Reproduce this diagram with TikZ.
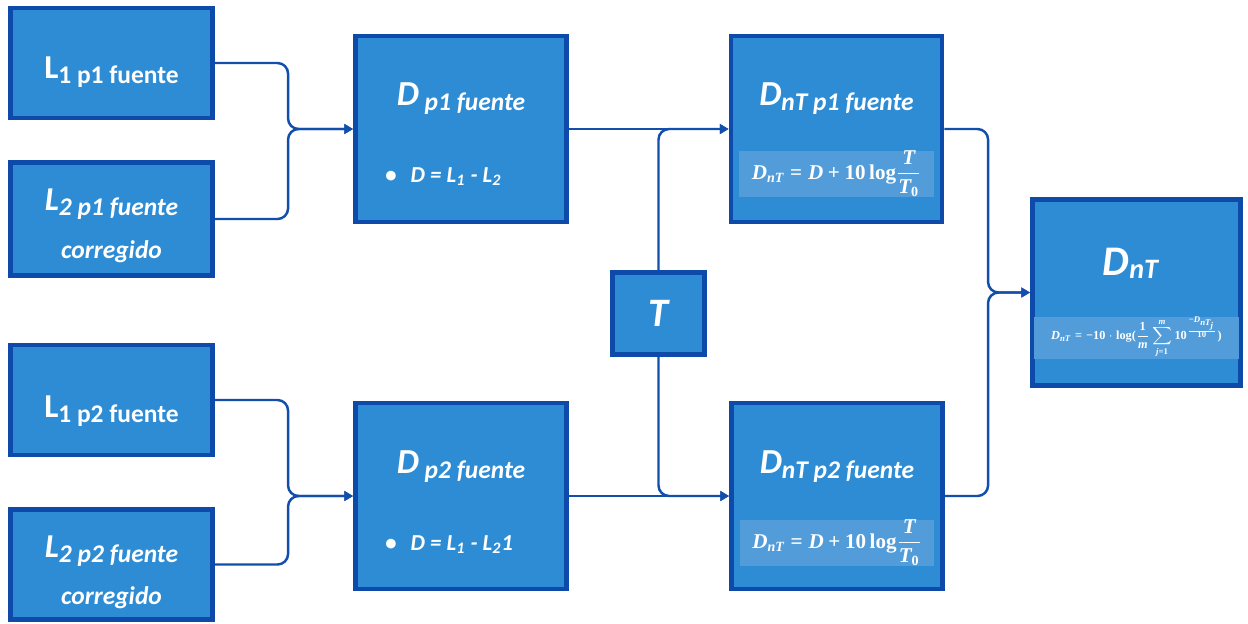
\documentclass[tikz,border=0pt]{standalone}
\usepackage{amsmath}
\usepackage[no-math]{fontspec}
\setmainfont{Carlito}
\newfontfamily\fmlfont{Liberation Serif}
\newcommand{\fv}[1]{\text{\fmlfont\bfseries\itshape #1}}
\newcommand{\fr}[1]{\text{\fmlfont\bfseries #1}}
\usepackage{tikz}
\usetikzlibrary{arrows.meta, positioning, calc}

\definecolor{boxfill}{RGB}{45,140,212}
\definecolor{boxedge}{RGB}{14,74,170}
\definecolor{linkblue}{RGB}{18,78,172}
\definecolor{stripblue}{RGB}{82,156,218}

\begin{document}
\begin{tikzpicture}[
        x=0.02cm, y=-0.02cm,
        box/.style={rectangle, draw=boxedge, line width=2.8pt, fill=boxfill, text=white},
        lbox/.style={box, minimum width=4.04cm, minimum height=2.2cm},
        dbox/.style={box, minimum width=4.22cm, minimum height=3.72cm},
        title/.style={text=white, anchor=base, font=\fontsize{14.5}{16}\selectfont\bfseries},
        ititle/.style={title, font=\fontsize{14.5}{16}\selectfont\bfseries\itshape},
        formula/.style={fill=stripblue, text=white, minimum width=3.9cm, minimum height=0.84cm, inner sep=0pt, font=\fontsize{12}{14}\selectfont},
        link/.style={draw=linkblue, line width=1.4pt, rounded corners=6pt, -{Triangle[length=5pt, width=5.5pt]}}
    ]
    \useasboundingbox (0,0) rectangle (1248,623);

    % --- Input boxes ---
    \node[lbox] (l1a) at (111.5,63) {};
    \node[lbox, minimum height=2.26cm] (l2a) at (111.5,219) {};
    \node[lbox] (l1b) at (111.5,400) {};
    \node[lbox] (l2b) at (111.5,564.5) {};

    \node[title] (l1aT) at ($(l1a.center)+(0,15)$) {{\fontsize{19}{19}\selectfont L}\raisebox{-3.4pt}{1 p1 fuente}};
    \node[ititle] (l2aT) at ($(l2a.center)+(0,-9)$) {{\fontsize{19}{19}\selectfont L}\raisebox{-3.4pt}{2 p1 fuente}};
    \node[ititle] (l2aC) at ($(l2a.center)+(0,39)$) {corregido};
    \node[title] (l1bT) at ($(l1b.center)+(0,17)$) {{\fontsize{19}{19}\selectfont L}\raisebox{-3.4pt}{1 p2 fuente}};
    \node[ititle] (l2bT) at ($(l2b.center)+(0,-7.5)$) {{\fontsize{19}{19}\selectfont L}\raisebox{-3.4pt}{2 p2 fuente}};
    \node[ititle] (l2bC) at ($(l2b.center)+(0,40)$) {corregido};

    % --- Difference boxes ---
    \node[dbox] (dA) at (461,129) {};
    \node[dbox] (dB) at (461,496) {};

    \node[ititle] (dAT) at ($(dA.center)+(0,-24)$) {{\fontsize{20}{20}\selectfont D} \raisebox{-3.4pt}{p1 fuente}};
    \node[ititle, anchor=base west, font=\fontsize{13}{15}\selectfont\bfseries\itshape] (dAF) at ($(dA.center)+(-82,53)$) {\textbullet\hspace{8pt}D = L\textsubscript{1} - L\textsubscript{2}};
    \node[ititle] (dBT) at ($(dB.center)+(0,-23)$) {{\fontsize{20}{20}\selectfont D} \raisebox{-3.4pt}{p2 fuente}};
    \node[ititle, anchor=base west, font=\fontsize{13}{15}\selectfont\bfseries\itshape] (dBF) at ($(dB.center)+(-82,54)$) {\textbullet\hspace{8pt}D = L\textsubscript{1} - L\textsubscript{2}1};

    % --- Reverberation time ---
    \node[box, minimum width=1.84cm, minimum height=1.64cm, font=\fontsize{23}{23}\selectfont\bfseries\itshape] (t) at (658.5,313.5) {T};

    % --- Standardised boxes ---
    \node[dbox] (dnA) at (836.5,129) {};
    \node[dbox] (dnB) at (837,496) {};

    \node[ititle] (dnAT) at ($(dnA.center)+(0,-24)$) {{\fontsize{20}{20}\selectfont D}\raisebox{-3pt}{nT p1 fuente}};
    \node[formula] (dnAF) at ($(dnA.center)+(0,45)$) {\(\fv{D}_{\fv{nT}} \mathrel{\fr{=}} \fv{D} \mathbin{\fr{+}} \fr{10\,log}\dfrac{\fv{T}}{\fv{T}_{\fr{0}}}\)};
    \node[ititle] (dnBT) at ($(dnB.center)+(0,-23)$) {{\fontsize{20}{20}\selectfont D}\raisebox{-3pt}{nT p2 fuente}};
    \node[formula] (dnBF) at ($(dnB.center)+(0,47)$) {\(\fv{D}_{\fv{nT}} \mathrel{\fr{=}} \fv{D} \mathbin{\fr{+}} \fr{10\,log}\dfrac{\fv{T}}{\fv{T}_{\fr{0}}}\)};

    % --- Final result ---
    \node[dbox, minimum width=4.16cm] (fin) at (1136.5,292.5) {};
    \node[ititle] (finT) at ($(fin.center)+(-6,-17.5)$) {{\fontsize{24}{24}\selectfont D}\raisebox{-2pt}{\fontsize{16}{16}\selectfont nT}};
    \node[formula, minimum width=4.1cm, font=\fontsize{7}{8}\selectfont] (finF) at ($(fin.center)+(0,45)$) {\(\displaystyle \fv{D}_{\fv{nT}} \mathrel{\fr{=}} \fr{−10} \cdot \fr{log(}\frac{\fr{1}}{\fv{m}}\sum_{\fv{j}\fr{=1}}^{\fv{m}}\fr{10}^{\frac{\fr{−}\fv{D}_{\fv{nT}_{\fv{j}}}}{\fr{10}}}\fr{)}\)};

    % --- Connectors ---
    \coordinate (jA) at ($(dA.west)+(-65,0)$);
    \coordinate (jB) at ($(dB.west)+(-65,0)$);
    \coordinate (jC) at ($(fin.west)+(-42,0)$);

    \draw[link] (l1a.east) -| (jA) -- (dA.west);
    \draw[link] (l2a.east) -| (jA) -- (dA.west);
    \draw[link] (l1b.east) -| (jB) -- (dB.west);
    \draw[link] (l2b.east) -| (jB) -- (dB.west);

    \draw[link] (dA.east) -- (dnA.west);
    \draw[link] (dB.east) -- (dnB.west);
    \draw[link] (t.north) |- (dnA.west);
    \draw[link] (t.south) |- (dnB.west);

    \draw[link] (dnA.east) -| (jC) -- (fin.west);
    \draw[link] (dnB.east) -| (jC) -- (fin.west);

\end{tikzpicture}
\end{document}
